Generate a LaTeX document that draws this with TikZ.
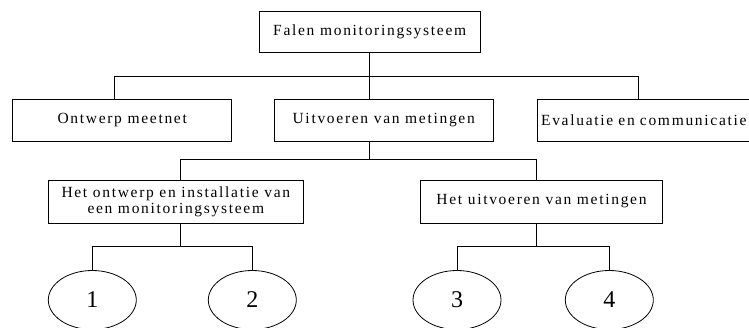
\documentclass[tikz,border=0pt]{standalone}
\usepackage{fontspec}
\setmainfont{Liberation Serif}[LetterSpace=11]
\newfontfamily\digitfont{Liberation Serif}
\usetikzlibrary{shapes.geometric,calc}
\tikzset{
  treebox/.style={draw, line width=0.8pt, inner sep=0pt, align=center,
    font=\fontsize{15.5}{16}\selectfont},
  leaf/.style={draw, line width=0.8pt, ellipse, inner sep=0pt,
    minimum width=88pt, minimum height=59pt, font=\digitfont\fontsize{24}{24}\selectfont},
  link/.style={line width=0.8pt}
}
\begin{document}
\begin{tikzpicture}[x=1pt,y=-1pt]
\useasboundingbox (0,0) rectangle (749,327);
\clip (0,0) rectangle (749,327);
% level 1
\node[treebox, minimum width=220.7pt, minimum height=41pt] (top) at (369.7,31.5) {Falen monitoringsysteem};
% level 2
\node[treebox, minimum width=219pt, minimum height=42pt] (ontwerp) at (122.2,120) {Ontwerp meetnet};
\node[treebox, minimum width=219.5pt, minimum height=42pt] (uitv) at (383.7,120) {Uitvoeren van metingen};
\node[treebox, anchor=west, text width=255pt, inner xsep=4pt, align=left, minimum height=42pt] (eval) at (536.7,120) {Evaluatie en communicatie};
% level 3
\node[treebox, minimum width=255pt, minimum height=43pt] (install) at (175.8,201.5) {Het ontwerp en installatie van\\een monitoringsysteem};
\node[treebox, minimum width=242pt, minimum height=43pt] (meting) at (541.5,201.5) {Het uitvoeren van metingen};
% leaves
\node[leaf] (l1) at (92.3,300) {1};
\node[leaf] (l2) at (252.3,300) {2};
\node[leaf] (l3) at (457,300) {3};
\node[leaf] (l4) at (609.3,300) {4};
% bus coordinates
\coordinate (b1) at (369.3,76);
\coordinate (d1) at (114.3,76);
\coordinate (d3) at (638.7,76);
\coordinate (b2) at (369.3,159);
\coordinate (e1) at (180,159);
\coordinate (e2) at (536.7,159);
\coordinate (f1) at (180,246.7);
\coordinate (f2) at (536.7,246.7);
% connectors level 1 -> 2
\draw[link] (top.south -| b1) -- (b1);
\draw[link] (d1 |- ontwerp.north) -- (d1) -- (d3) -- (d3 |- eval.north);
\draw[link] (b1) -- (b1 |- uitv.north);
% level 2 -> 3
\draw[link] (uitv.south -| b2) -- (b2);
\draw[link] (e1 |- install.north) -- (e1) -- (e2) -- (e2 |- meting.north);
% level 3 -> leaves
\draw[link] (install.south -| f1) -- (f1);
\draw[link] (l1.north) -- (l1.north |- f1) -- (l2.north |- f1) -- (l2.north);
\draw[link] (meting.south -| f2) -- (f2);
\draw[link] (l3.north) -- (l3.north |- f2) -- (l4.north |- f2) -- (l4.north);
\end{tikzpicture}
\end{document}
